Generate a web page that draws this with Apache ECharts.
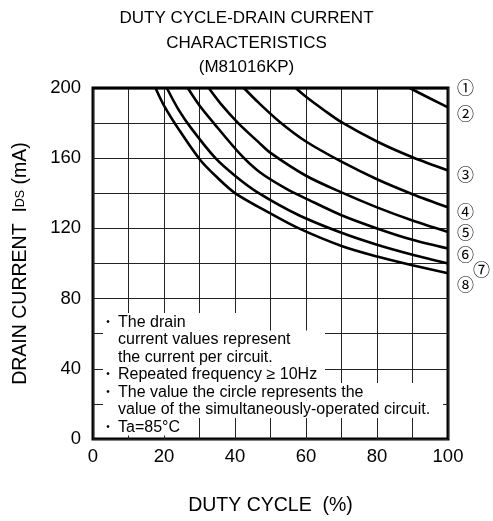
<!DOCTYPE html>
<html><head><meta charset="utf-8">
<script src="https://cdn.jsdelivr.net/npm/echarts@6/dist/echarts.min.js"></script>
<style>html,body{margin:0;padding:0;background:#fff}#c{width:493px;height:521px}</style>
</head><body><div id="c"></div>
<script>
// ---- data (duty %, drain current mA) ----
const curve1 = [[0,200],[100,200]];
const curve2 = [[89.2,200],[95,194],[100,189]];
const curve3 = [[57.1,200],[60,195],[65,187.5],[70,180.5],[80,169.5],[90,160.5],[100,153]];
const curve4 = [[42.5,200],[46.7,191.5],[52.7,180.5],[60,169.5],[70,158],[80,148],[90,139.5],[100,132]];
const curve5 = [[32.6,200],[36,191],[40.9,180],[46.7,169],[50,163],[60,150],[70,140.5],[80,132],[90,124.5],[100,118]];
const curve6 = [[26.7,200],[30,190],[34,180],[41.6,162],[47,152],[54.5,142.5],[60,137],[70,127.5],[80,120],[90,113.5],[100,108.5]];
const curve7 = [[20.8,200],[24,188],[27.7,177],[34.5,160],[40,150],[46,141],[58,127.5],[70,117.5],[80,110.7],[90,105],[100,100]];
const curve8 = [[17.6,200],[20,190],[24.3,176],[30.2,159],[35,149],[40.1,140],[50,128.5],[58,120],[70,110],[80,104],[90,99],[100,94.4]];
const curves = [curve1,curve2,curve3,curve4,curve5,curve6,curve7,curve8];
const curveLabels = ['①','②','③','④','⑤','⑥','⑦','⑧'];
const xTickLabels = [0,20,40,60,80,100];
const yTickLabels = [0,40,80,120,160,200];
const titleLines = ['DUTY CYCLE-DRAIN CURRENT','CHARACTERISTICS','(M81016KP)'];
const noteBullets = ['•','','','•','•','','•'];
const noteLines = [
  'The drain',
  'current values represent',
  'the current per circuit.',
  'Repeated frequency ≥ 10Hz',
  'The value the circle represents the',
  'value of the simultaneously-operated circuit.',
  'Ta=85°C'
];

const FONT = '"Liberation Sans", Arial, sans-serif';
const chart = echarts.init(document.getElementById('c'));
const labelOffsets = [[5,0],[5,6],[5,4],[5,4],[5,1],[5,6],[21,6],[5,11]];
const noteRight = [250,325,325,325,441,443,190];

const series = curves.map((d,i)=>({
  type:'line', data:d, smooth:0.3, symbol:'none', silent:true,
  lineStyle:{color:'#000', width:2.6},
  z: 3,
  endLabel:{show:true, formatter:curveLabels[i], color:'#000', fontSize:17,
    fontFamily:'"Noto Sans CJK JP", "DejaVu Sans", sans-serif', distance:4, offset:labelOffsets[i]}
}));

const graphic = [];
titleLines.forEach((t,i)=>{
  graphic.push({type:'text', left:'center', top: 10 + i*24.5, z:10,
    style:{text:t, fill:'#000', font:'17px '+FONT}});
});
const noteTop = 313, noteLH = 17.5;
noteLines.forEach((t,i)=>{
  graphic.push({type:'rect', z:9, shape:{x:103, y:noteTop + i*noteLH, width:noteRight[i]-103, height:noteLH},
    style:{fill:'#fff'}});
  if (noteBullets[i]) graphic.push({type:'text', z:10, x:108, y:noteTop + i*noteLH + noteLH/2,
    style:{text:noteBullets[i], fill:'#000', font:'10px '+FONT, align:'center', verticalAlign:'middle'}});
  graphic.push({type:'text', z:10, x:118, y:noteTop + i*noteLH + noteLH/2 + 0.5,
    style:{text:t, fill:'#000', font:'16px '+FONT, align:'left', verticalAlign:'middle'}});
});

chart.setOption({
  animation:false,
  backgroundColor:'#fff',
  grid:{left:93, right:45, top:88, bottom:79, show:true, borderColor:'#000', borderWidth:3, backgroundColor:'transparent'},
  xAxis:{type:'value', min:0, max:100, interval:10,
    name:'DUTY CYCLE  (%)', nameLocation:'middle', nameGap:57,
    nameTextStyle:{color:'#000', fontSize:19.5, fontFamily:FONT},
    axisLine:{show:false}, axisTick:{show:false},
    axisLabel:{color:'#000', fontSize:18.5, fontFamily:FONT, margin:8,
      formatter:v=> xTickLabels.includes(v)? String(v):''},
    splitLine:{show:true, lineStyle:{color:'#222', width:1}}},
  yAxis:{type:'value', min:0, max:200, interval:20,
    name:'{a|DRAIN CURRENT  I}{s|DS}{a| (mA)}', nameLocation:'middle', nameGap:62, nameRotate:90,
    nameTextStyle:{color:'#000', fontFamily:FONT, rich:{a:{fontSize:19.5, fontFamily:FONT, color:'#000'}, s:{fontSize:12.5, fontFamily:FONT, color:'#000'}}},
    axisLine:{show:false}, axisTick:{show:false},
    axisLabel:{color:'#000', fontSize:18.5, fontFamily:FONT, margin:12,
      formatter:v=> yTickLabels.includes(v)? String(v):''},
    splitLine:{show:true, lineStyle:{color:'#222', width:1}}},
  series: series,
  graphic: graphic
});
</script></body></html>
